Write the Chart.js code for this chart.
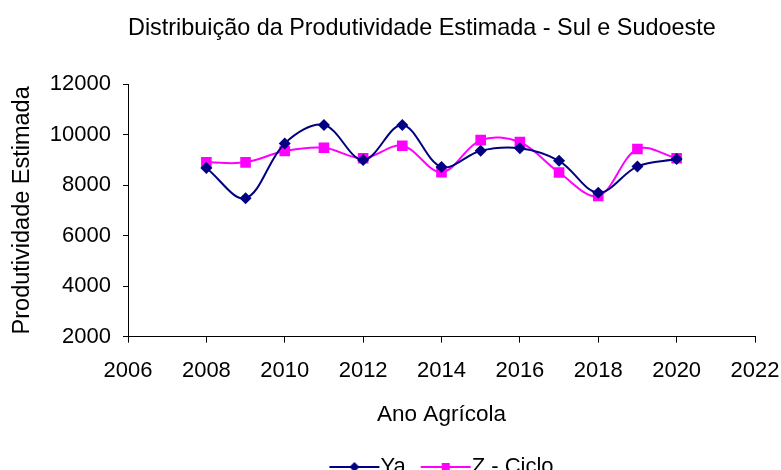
<!DOCTYPE html>
<html>
<head>
<meta charset="utf-8">
<script src="https://cdn.jsdelivr.net/npm/chart.js@4"></script>
<style>
  html, body { margin: 0; padding: 0; background: #fff; }
  #wrap { width: 781px; height: 470px; }
</style>
</head>
<body>
<div id="wrap"><canvas id="c"></canvas></div>
<script>
// anos agricolas e produtividade estimada
var anos = [2008, 2009, 2010, 2011, 2012, 2013, 2014, 2015, 2016, 2017, 2018, 2019, 2020];
var ya = [8680, 7480, 9650, 10380, 8990, 10380, 8720, 9360, 9460, 8960, 7700, 8740, 9030];
var zCiclo = [8900, 8900, 9350, 9480, 9060, 9560, 8510, 9780, 9700, 8500, 7570, 9430, 9060];
var yTicks = [2000, 4000, 6000, 8000, 10000, 12000];
var xTicks = [2006, 2008, 2010, 2012, 2014, 2016, 2018, 2020, 2022];

var FONT = "'Liberation Sans', Arial, sans-serif";
var NAVY = '#000080';
var MAGENTA = '#FF00FF';

function pontos(ys) {
	return anos.map(function(a, i) { return { x: a, y: ys[i] }; });
}

// icone da legenda: linha com marcador
function iconeLegenda(cor, tipo) {
	var cv = document.createElement('canvas');
	cv.width = 100; cv.height = 20;
	var g = cv.getContext('2d');
	g.strokeStyle = cor; g.lineWidth = 2;
	g.beginPath(); g.moveTo(30, 10); g.lineTo(80, 10); g.stroke();
	g.fillStyle = cor;
	g.beginPath();
	if (tipo === 'losango') {
		g.moveTo(55, 5); g.lineTo(60, 10); g.lineTo(55, 15); g.lineTo(50, 10);
	} else {
		g.rect(51, 6, 8, 8);
	}
	g.closePath(); g.fill();
	return cv;
}
var icones = [iconeLegenda(NAVY, 'losango'), iconeLegenda(MAGENTA, 'quadrado')];

new Chart(document.getElementById('c'), {
	type: 'line',
	data: {
		datasets: [{
			label: 'Ya',
			data: pontos(ya),
			borderColor: NAVY,
			backgroundColor: NAVY,
			borderWidth: 2,
			pointStyle: 'rectRot',
			pointRadius: 6,
			pointBorderWidth: 0,
			tension: 0.35
		}, {
			label: 'Z - Ciclo',
			data: pontos(zCiclo),
			borderColor: MAGENTA,
			backgroundColor: MAGENTA,
			borderWidth: 2,
			pointStyle: 'rect',
			pointRadius: 7.5,
			pointBorderWidth: 0,
			tension: 0.35
		}]
	},
	options: {
		responsive: true,
		maintainAspectRatio: false,
		animation: false,
		layout: { padding: { left: 0, right: 26, top: 0, bottom: -18 } },
		scales: {
			x: {
				type: 'linear',
				min: 2006, max: 2022,
				afterBuildTicks: function(s) { s.ticks = xTicks.map(function(v) { return { value: v }; }); },
				afterFit: function(s) { s.paddingLeft = 0; s.paddingRight = 0; },
				grid: { drawOnChartArea: false, color: '#000', tickLength: 6, tickWidth: 1 },
				border: { color: '#000', width: 1 },
				ticks: { color: '#000', font: { family: FONT, size: 22 }, padding: 15, maxRotation: 0, autoSkip: false, callback: function(v) { return String(v); } },
				title: { display: true, text: 'Ano Agrícola', color: '#000', font: { family: FONT, size: 22.5 }, padding: { top: 2, bottom: 13 } }
			},
			y: {
				min: 2000, max: 12000,
				afterBuildTicks: function(s) { s.ticks = yTicks.map(function(v) { return { value: v }; }); },
				afterFit: function(s) { s.width = 128; },
				grid: { drawOnChartArea: false, color: '#000', tickLength: 5, tickWidth: 1 },
				border: { color: '#000', width: 1 },
				ticks: { color: '#000', font: { family: FONT, size: 22 }, padding: 12, callback: function(v) { return String(v); } },
				title: { display: true, text: 'Produtividade Estimada', color: '#000', font: { family: FONT, size: 23.5 }, padding: { top: 8, bottom: 0 } }
			}
		},
		plugins: {
			title: {
				display: true,
				fullSize: false,
				align: 'start',
				text: 'Distribuição da Produtividade Estimada - Sul e Sudoeste',
				color: '#000',
				font: { family: FONT, size: 23.4, weight: 'normal' },
				padding: { top: 15, bottom: 41 }
			},
			legend: {
				position: 'bottom',
				fullSize: false,
				labels: {
					color: '#000',
					font: { family: FONT, size: 22 },
					usePointStyle: true,
					pointStyleWidth: 40,
					padding: 15,
					generateLabels: function(chart) {
						var itens = Chart.defaults.plugins.legend.labels.generateLabels(chart);
						itens.forEach(function(it, i) { it.pointStyle = icones[i]; });
						return itens;
					}
				}
			},
			tooltip: { enabled: false }
		}
	}
});
</script>
</body>
</html>
